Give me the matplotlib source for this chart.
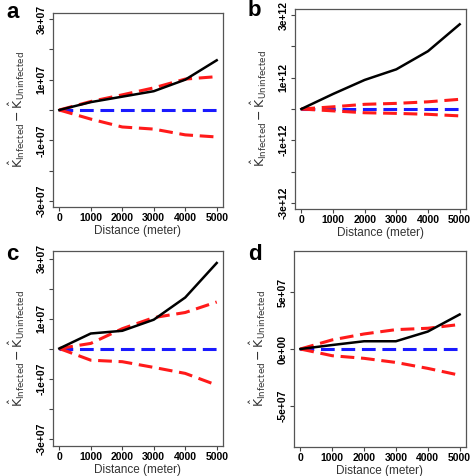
import numpy as np
import matplotlib.pyplot as plt

plt.rcParams['font.family'] = ['Liberation Sans', 'DejaVu Sans']

# ------------------------------ Data -----------------------------------
distance = [0, 1000, 2000, 3000, 4000, 5000]
zero_line = [0, 0, 0, 0, 0, 0]

# panel a (units of 1e7)
a_obs = [0, 0.26, 0.44, 0.62, 1.0, 1.64]
a_upper = [0, 0.28, 0.5, 0.73, 1.02, 1.1]
a_lower = [0, -0.3, -0.56, -0.63, -0.82, -0.89]

# panel b (units of 1e12)
b_obs = [0, 0.48, 0.93, 1.27, 1.85, 2.71]
b_upper = [0, 0.07, 0.15, 0.18, 0.23, 0.31]
b_lower = [0, -0.06, -0.12, -0.14, -0.17, -0.22]

# panel c (units of 1e7)
c_obs = [0, 0.5, 0.59, 0.96, 1.7, 2.85]
c_upper = [0, 0.17, 0.66, 1.03, 1.2, 1.55]
c_lower = [0, -0.39, -0.44, -0.63, -0.83, -1.22]

# panel d (units of 1e7)
d_obs = [0, 0.35, 0.68, 0.68, 1.53, 3.03]
d_upper = [0, 0.8, 1.32, 1.7, 1.82, 2.15]
d_lower = [0, -0.59, -0.82, -1.18, -1.7, -2.3]

panels = [
    ('a', a_obs, a_upper, a_lower, 3.2,
     [-3, -2, -1, 0, 1, 2, 3], ['-3e+07', '', '-1e+07', '', '1e+07', '', '3e+07']),
    ('b', b_obs, b_upper, b_lower, 3.2,
     [-3, -2, -1, 0, 1, 2, 3], ['-3e+12', '', '-1e+12', '', '1e+12', '', '3e+12']),
    ('c', c_obs, c_upper, c_lower, 3.25,
     [-3, -2, -1, 0, 1, 2, 3], ['-3e+07', '', '-1e+07', '', '1e+07', '', '3e+07']),
    ('d', d_obs, d_upper, d_lower, 8.6,
     [-5, 0, 5], ['-5e+07', '0e+00', '5e+07']),
]

# axes boxes in pixels: left, right, top, bottom ; panel letter position
W, H = 472, 476
boxes = [(53, 223, 13, 207), (295, 466, 9, 209), (53, 223, 251, 446), (294, 466, 251, 447)]
letters = [(6, 12), (248, 10), (6, 255), (248, 254)]

fig = plt.figure(figsize=(W / 100, H / 100), dpi=100)
dash = (0, (4.5, 2.2))

for (label, obs, upper, lower, lim, yt, ytl), (l, r, t, b), (lx, ly) in zip(panels, boxes, letters):
    ax = fig.add_axes([l / W, 1 - b / H, (r - l) / W, (b - t) / H])
    ax.plot(distance, zero_line, color='#1a1aff', lw=2.2, ls=dash)
    ax.plot(distance, upper, color='#ff1a1a', lw=2.2, ls=dash)
    ax.plot(distance, lower, color='#ff1a1a', lw=2.2, ls=dash)
    ax.plot(distance, obs, color='black', lw=1.8)
    ax.set_xlim(-200, 5200)
    ax.set_ylim(-lim, lim)
    ax.set_xticks(distance)
    ax.set_xticklabels([str(d) for d in distance], fontsize=7.5, fontweight='bold')
    ax.set_yticks(yt)
    ax.set_yticklabels(ytl, fontsize=7.5, fontweight='bold', rotation=90, va='center')
    ax.tick_params(length=3, width=0.8, color='#444444', pad=1.5)
    for s in ax.spines.values():
        s.set_color('#555555')
        s.set_linewidth(0.9)
    ax.set_xlabel('Distance (meter)', fontsize=8.5, color='#333333', labelpad=1)
    ax.set_ylabel(r'$\hat{\mathrm{K}}_{\mathrm{Infected}} - \hat{\mathrm{K}}_{\mathrm{Uninfected}}$',
                  fontsize=9, color='#333333', labelpad=7)
    fig.text(lx / W, 1 - ly / H, label, fontsize=16, fontweight='bold',
             ha='left', va='center')

fig.savefig('out.png', dpi=100)
